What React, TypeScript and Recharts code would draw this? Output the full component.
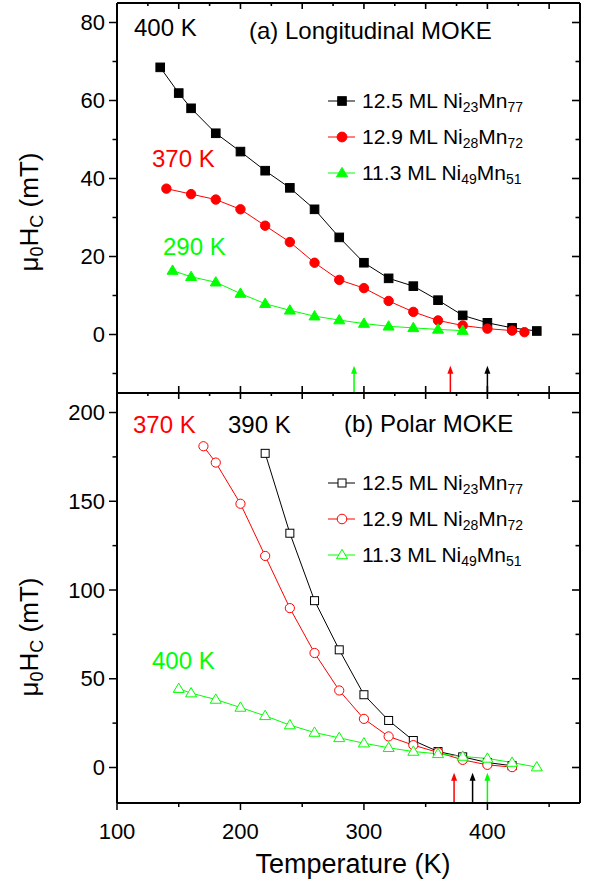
import React from "react"
import { LineChart, Line, XAxis, YAxis, ReferenceLine } from "recharts"

const FONT = "'Liberation Sans', Arial, Helvetica, sans-serif"
const BLACK = "#000000"
const RED = "#ff0000"
const GREEN = "#00ff00"

// (a) Longitudinal MOKE
const lonT_23 = [135, 150, 160, 180, 200, 220, 240, 260, 280, 300, 320, 340, 360, 380, 400, 420, 440]
const lonH_23 = [68.5, 61.9, 58.0, 51.6, 46.9, 42.0, 37.6, 32.1, 24.9, 18.4, 14.4, 12.4, 8.8, 4.9, 3.0, 1.7, 0.9]
const lonT_28 = [140, 160, 180, 200, 220, 240, 260, 280, 300, 320, 340, 360, 380, 400, 420, 430]
const lonH_28 = [37.4, 36.0, 34.6, 32.1, 27.9, 23.7, 18.4, 14.0, 11.9, 8.6, 5.8, 3.6, 2.3, 1.5, 1.0, 0.6]
const lonT_49 = [145, 160, 180, 200, 220, 240, 260, 280, 300, 320, 340, 360, 380]
const lonH_49 = [16.4, 14.8, 13.4, 10.5, 7.9, 6.2, 4.7, 3.7, 2.8, 2.1, 1.7, 1.3, 1.0]

// (b) Polar MOKE
const polT_23 = [220, 240, 260, 280, 300, 320, 340, 360, 380, 400, 420]
const polH_23 = [177, 132, 94, 66.3, 41, 26.5, 15.2, 9.0, 6.0, 2.8, 1.0]
const polT_28 = [170, 180, 200, 220, 240, 260, 280, 300, 320, 340, 360, 380, 400, 420]
const polH_28 = [181, 171.8, 148.6, 119.2, 89.8, 64.5, 43.4, 27.4, 17.5, 12.6, 8.5, 4.3, 1.5, 0.2]
const polT_49 = [150, 160, 180, 200, 220, 240, 260, 280, 300, 320, 340, 360, 380, 400, 420, 440]
const polH_49 = [44.4, 41.9, 38.3, 33.8, 29.1, 23.9, 19.7, 16.7, 13.7, 11.1, 9.0, 7.7, 6.2, 5.1, 2.8, 0.2]

// ordering temperatures (arrows)
const lonTc = [292, 370, 400]
const polTc = [373, 388, 400]

// legend / series labels
const sampleThick = ["12.5", "12.9", "11.3"]
const sampleNi = ["23", "28", "49"]
const sampleMn = ["77", "72", "51"]

// ticks
const xMajor = [100, 200, 300, 400]
const xFine = [125, 150, 175, 200, 225, 250, 275, 300, 325, 350, 375, 400, 425, 450]
const xFineMajor = [150, 200, 250, 300, 350, 400, 450]
const xMid = [150, 200, 250, 300, 350, 400, 450]
const yLonMajor = [0, 20, 40, 60, 80]
const yLonMinor = [-10, 10, 30, 50, 70]
const yPolMajor = [0, 50, 100, 150, 200]
const yPolMinor = [25, 75, 125, 175]

const toRows = (t: number[], h: number[]) => t.map((v, i) => ({ t: v, h: h[i] }))

const FRAME = 10 // room given to the frame axes (top / right)
const PLOT_W = 590 - 117 - FRAME
const X_DOMAIN: [number, number] = [100, 475]

// left axis: outward tick + label, plus the mirrored inward tick on the right edge
const leftTick = (majors: number[]) => (p: any) => {
  const v = p.payload?.value
  const major = majors.includes(v)
  const len = major ? 8 : 4.5
  const xr = p.x + PLOT_W
  return (
    <g key={`l-${v}`}>
      <line x1={p.x} y1={p.y} x2={p.x - len} y2={p.y} stroke={BLACK} strokeWidth={1.5} />
      <line x1={xr} y1={p.y} x2={xr - len} y2={p.y} stroke={BLACK} strokeWidth={1.6} />
      {major && (
        <text x={p.x - 12} y={p.y} textAnchor="end" dominantBaseline="central" fontSize={22} fontFamily={FONT} fill={BLACK}>
          {v}
        </text>
      )}
    </g>
  )
}

// bottom axis: draws the top-edge inward ticks (every 25 K), and either the
// labelled outer ticks (bottom panel) or the inner ones (top panel)
const bottomTick = (plotH: number, labelled: boolean) => (p: any) => {
  const v = p.payload?.value
  const yt = p.y - plotH
  const topLen = xFineMajor.includes(v) ? 6 : 3
  const isMid = xMid.includes(v)
  const isMajor = xMajor.includes(v)
  return (
    <g key={`b-${v}`}>
      <line x1={p.x} y1={yt} x2={p.x} y2={yt + topLen} stroke={BLACK} strokeWidth={1.6} />
      {!labelled && isMid && <line x1={p.x} y1={p.y} x2={p.x} y2={p.y - 7} stroke={BLACK} strokeWidth={1.6} />}
      {labelled && (isMajor || isMid) && (
        <line x1={p.x} y1={p.y} x2={p.x} y2={p.y + (isMajor ? 7 : 4)} stroke={BLACK} strokeWidth={1.5} />
      )}
      {labelled && isMajor && (
        <text x={p.x} y={p.y + 36} textAnchor="middle" fontSize={22} fontFamily={FONT} fill={BLACK}>
          {v}
        </text>
      )}
    </g>
  )
}

const squareDot = (color: string, filled: boolean, s: number) => (p: any) =>
  (
    <rect
      key={`sq-${p.index}`}
      x={p.cx - s / 2}
      y={p.cy - s / 2}
      width={s}
      height={s}
      fill={filled ? color : "#fff"}
      stroke={color}
      strokeWidth={1}
    />
  )

const circleDot = (color: string, filled: boolean, r: number) => (p: any) =>
  <circle key={`ci-${p.index}`} cx={p.cx} cy={p.cy} r={r} fill={filled ? color : "#fff"} stroke={color} strokeWidth={1} />

const triDot = (color: string, filled: boolean, w: number) => (p: any) => {
  const h = w * 0.85
  const pts = `${p.cx},${p.cy - h * 0.6} ${p.cx - w / 2},${p.cy + h * 0.4} ${p.cx + w / 2},${p.cy + h * 0.4}`
  return <polygon key={`tr-${p.index}`} points={pts} fill={filled ? color : "#fff"} stroke={color} strokeWidth={1} />
}

const arrowShape = (color: string) => (p: any) => {
  const { x1, y1, y2 } = p
  const tipY = Math.min(y1, y2)
  const baseY = Math.max(y1, y2)
  return (
    <g>
      <line x1={x1} y1={baseY} x2={x1} y2={tipY + 6} stroke={color} strokeWidth={1.5} />
      <polygon points={`${x1},${tipY} ${x1 - 3},${tipY + 8} ${x1 + 3},${tipY + 8}`} fill={color} />
    </g>
  )
}

const axisLine = { stroke: BLACK, strokeWidth: 2 }
const colors = [BLACK, RED, GREEN]

function Panel(props: {
  height: number
  margin: any
  bottomHeight: number
  plotH: number
  yDomain: [number, number]
  yMajor: number[]
  yMinor: number[]
  labelled: boolean
  series: { t: number[]; h: number[] }[]
  filled: boolean
  tc: number[]
  tcColors: string[]
}) {
  const { yDomain, filled } = props
  const yTicks = [...props.yMinor, ...props.yMajor].sort((a, b) => a - b)
  const dots = filled
    ? [squareDot(BLACK, true, 8.6), circleDot(RED, true, 4.7), triDot(GREEN, true, 11)]
    : [squareDot(BLACK, false, 8), circleDot(RED, false, 4.6), triDot(GREEN, false, 11)]
  const arrowTop = yDomain[0] + (filled ? 7 : 17)
  const frameRows = toRows(props.series[0].t, props.series[0].h)
  const xTicks = props.labelled ? [100, ...xFine] : xFine

  return (
    <LineChart width={590} height={props.height} margin={props.margin}>
      <XAxis
        xAxisId="x"
        type="number"
        dataKey="t"
        orientation="bottom"
        domain={X_DOMAIN}
        allowDataOverflow
        ticks={xTicks}
        interval={0}
        height={props.bottomHeight}
        tickSize={0}
        tickMargin={0}
        tickLine={false}
        axisLine={axisLine}
        tick={bottomTick(props.plotH, props.labelled)}
      />
      <XAxis
        xAxisId="xt"
        type="number"
        dataKey="t"
        orientation="top"
        domain={X_DOMAIN}
        allowDataOverflow
        height={FRAME}
        tickLine={false}
        tick={false}
        axisLine={axisLine}
      />
      <YAxis
        yAxisId="y"
        type="number"
        orientation="left"
        domain={yDomain}
        allowDataOverflow
        ticks={yTicks}
        interval={0}
        width={117}
        tickSize={0}
        tickMargin={0}
        tickLine={false}
        axisLine={axisLine}
        tick={leftTick(props.yMajor)}
      />
      <YAxis
        yAxisId="yr"
        type="number"
        orientation="right"
        domain={yDomain}
        allowDataOverflow
        width={FRAME}
        tickLine={false}
        tick={false}
        axisLine={axisLine}
      />
      {/* invisible series so the mirrored frame axes get a scale */}
      <Line
        xAxisId="xt"
        yAxisId="yr"
        data={frameRows}
        dataKey="h"
        stroke="none"
        dot={false}
        activeDot={false}
        legendType="none"
        isAnimationActive={false}
      />
      {props.tc.map((t, i) => (
        <ReferenceLine
          key={`tc-${i}`}
          xAxisId="x"
          yAxisId="y"
          segment={[
            { x: t, y: yDomain[0] },
            { x: t, y: arrowTop },
          ]}
          stroke={props.tcColors[i]}
          shape={arrowShape(props.tcColors[i])}
          ifOverflow="visible"
        />
      ))}
      {props.series.map((s, i) => (
        <Line
          key={`s-${i}`}
          xAxisId="x"
          yAxisId="y"
          data={toRows(s.t, s.h)}
          dataKey="h"
          type="linear"
          stroke={colors[i]}
          strokeWidth={1}
          dot={dots[i]}
          activeDot={false}
          isAnimationActive={false}
        />
      ))}
    </LineChart>
  )
}

function LegendBlock({ top, filled }: { top: number; filled: boolean }) {
  const rowGap = 36
  return (
    <g>
      {sampleThick.map((th, i) => {
        const cy = top + i * rowGap
        const cx = 342
        const c = colors[i]
        const fill = filled ? c : "#fff"
        let marker
        if (i === 0) {
          const s = filled ? 8.6 : 8
          marker = <rect x={cx - s / 2} y={cy - s / 2} width={s} height={s} fill={fill} stroke={c} strokeWidth={1} />
        } else if (i === 1) {
          marker = <circle cx={cx} cy={cy} r={filled ? 4.9 : 4.8} fill={fill} stroke={c} strokeWidth={1} />
        } else {
          const w = 11
          const h = w * 0.85
          marker = (
            <polygon
              points={`${cx},${cy - h * 0.6} ${cx - w / 2},${cy + h * 0.4} ${cx + w / 2},${cy + h * 0.4}`}
              fill={fill}
              stroke={c}
              strokeWidth={1}
            />
          )
        }
        return (
          <g key={`lg-${i}`}>
            <line x1={328} y1={cy} x2={355} y2={cy} stroke={c} strokeWidth={1} />
            {marker}
            <text x={362} y={cy + 7} fontSize={21} fontFamily={FONT} fill={BLACK}>
              {th} ML Ni
              <tspan fontSize={14} dy={3.5}>
                {sampleNi[i]}
              </tspan>
              <tspan dy={-3.5}>Mn</tspan>
              <tspan fontSize={14} dy={3.5}>
                {sampleMn[i]}
              </tspan>
            </text>
          </g>
        )
      })}
    </g>
  )
}

function YTitle({ cy }: { cy: number }) {
  const cx = 38
  return (
    <text x={cx} y={cy} transform={`rotate(-90, ${cx}, ${cy})`} textAnchor="middle" fontSize={26} fontFamily={FONT} fill={BLACK}>
      μ
      <tspan fontSize={18} dy={5}>
        0
      </tspan>
      <tspan dy={-5}>H</tspan>
      <tspan fontSize={18} dy={5}>
        C
      </tspan>
      <tspan dy={-5}> (mT)</tspan>
    </text>
  )
}

const Note = ({ x, y, color, children }: any) => (
  <text x={x} y={y} fontSize={24} fontFamily={FONT} fill={color}>
    {children}
  </text>
)

export default function App() {
  return (
    <div style={{ position: "absolute", left: 0, top: 0, width: 589, height: 884, background: "#fff", overflow: "hidden" }}>
      {/* top panel: plot area 3..393 */}
      <div style={{ position: "absolute", left: 0, top: 3 - FRAME - 1 }}>
        <Panel
          height={1 + FRAME + 390 + 2}
          margin={{ top: 1, right: 0, bottom: 0, left: 0 }}
          bottomHeight={2}
          plotH={390}
          yDomain={[-15, 85]}
          yMajor={yLonMajor}
          yMinor={yLonMinor}
          labelled={false}
          series={[
            { t: lonT_23, h: lonH_23 },
            { t: lonT_28, h: lonH_28 },
            { t: lonT_49, h: lonH_49 },
          ]}
          filled={true}
          tc={lonTc}
          tcColors={[GREEN, RED, BLACK]}
        />
      </div>
      {/* bottom panel: plot area 393..803 */}
      <div style={{ position: "absolute", left: 0, top: 393 - FRAME - 1 }}>
        <Panel
          height={1 + FRAME + 410 + 81}
          margin={{ top: 1, right: 0, bottom: 0, left: 0 }}
          bottomHeight={81}
          plotH={410}
          yDomain={[-20, 211]}
          yMajor={yPolMajor}
          yMinor={yPolMinor}
          labelled={true}
          series={[
            { t: polT_23, h: polH_23 },
            { t: polT_28, h: polH_28 },
            { t: polT_49, h: polH_49 },
          ]}
          filled={false}
          tc={polTc}
          tcColors={[RED, BLACK, GREEN]}
        />
      </div>
      <svg width={589} height={884} style={{ position: "absolute", left: 0, top: 0, pointerEvents: "none" }}>
        <Note x={134} y={36} color={BLACK}>400 K</Note>
        <Note x={249} y={39} color={BLACK}>(a) Longitudinal MOKE</Note>
        <Note x={152} y={167} color={RED}>370 K</Note>
        <Note x={163} y={255} color={GREEN}>290 K</Note>
        <Note x={133} y={433} color={RED}>370 K</Note>
        <Note x={228} y={433} color={BLACK}>390 K</Note>
        <Note x={344} y={432} color={BLACK}>(b) Polar MOKE</Note>
        <Note x={152} y={669} color={GREEN}>400 K</Note>
        <LegendBlock top={101} filled={true} />
        <LegendBlock top={483} filled={false} />
        <YTitle cy={212} />
        <YTitle cy={637} />
        <text x={353} y={873} textAnchor="middle" fontSize={27} fontFamily={FONT} fill={BLACK}>
          Temperature (K)
        </text>
      </svg>
    </div>
  )
}
